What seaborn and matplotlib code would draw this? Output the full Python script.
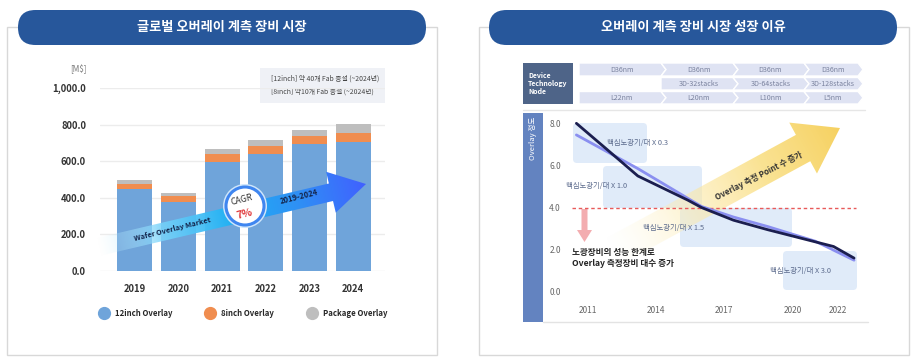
import numpy as np
import matplotlib
matplotlib.use("Agg")
import matplotlib.pyplot as plt
import seaborn as sns
from matplotlib.patches import FancyBboxPatch, Rectangle, Polygon, Circle
from matplotlib.lines import Line2D
from matplotlib.colors import LinearSegmentedColormap, to_rgba

sns.set_style("white")
plt.rcParams['font.family'] = ['Noto Sans CJK KR', 'DejaVu Sans']

# ---------------------------------------------------------------- data
# left chart: global overlay metrology market (M$)
years = ['2019', '2020', '2021', '2022', '2023', '2024']
wafer_12inch = [447, 379, 594, 641, 695, 707]
wafer_8inch = [28, 31, 47, 44, 43, 45]
package = [23, 16, 28, 31, 34, 54]
series_names = ['12inch Overlay', '8inch Overlay', 'Package Overlay']
series_colors = ['#6fa4da', '#f08d4f', '#bebebe']
left_yticks = [0, 200, 400, 600, 800, 1000]
fab_notes = ['[12inch] 약 40개 Fab 증설 (~2024년)', '[8inch] 약10개 Fab 증설 (~2024년)']

# right chart: overlay accuracy trend
dark_years = [2010.5, 2011.8, 2013.2, 2015.4, 2016.0, 2017.4, 2018.9, 2021.8, 2022.7]
dark_values = [8.0, 6.8, 5.5, 4.35, 4.0, 3.4, 2.95, 2.15, 1.6]
light_years = [2010.5, 2013.2, 2014.6, 2016.0, 2017.4, 2018.9, 2021.0, 2022.7]
light_values = [7.45, 5.85, 4.95, 4.05, 3.55, 3.1, 2.4, 1.5]
right_xticks = [2011, 2014, 2017, 2020, 2022]
right_yticks = [0, 2, 4, 6, 8]
limit_level = 4.0

node_row1 = ['D36nm', 'D36nm', 'D36nm', 'D36nm']
node_row2 = ['3D-32stacks', '3D-64stacks', '3D-128stacks']
node_row3 = ['L22nm', 'L20nm', 'L10nm', 'L5nm']
box_labels = ['핵심노광기/대 X 0.3', '핵심노광기/대 X 1.0', '핵심노광기/대 X 1.5', '핵심노광기/대 X 3.0']

W, H = 920, 364
fig = plt.figure(figsize=(W / 100, H / 100), dpi=100)


def px_axes(l, t, r, b, z):
    a = fig.add_axes([l / W, 1 - b / H, (r - l) / W, (b - t) / H], zorder=z)
    a.patch.set_alpha(0)
    return a


def overlay(z):
    a = fig.add_axes([0, 0, 1, 1], zorder=z)
    a.set_xlim(0, W)
    a.set_ylim(H, 0)
    a.axis('off')
    a.patch.set_alpha(0)
    return a


def grad_arrow(a, tail, tip, shaft_w, head_w, head_len, stops, z):
    tail = np.array(tail, float)
    tip = np.array(tip, float)
    d = tip - tail
    L = np.hypot(*d)
    u = d / L
    n = np.array([-u[1], u[0]])
    base = tip - u * head_len
    pts = [tail + n * shaft_w / 2, base + n * shaft_w / 2, base + n * head_w / 2, tip,
           base - n * head_w / 2, base - n * shaft_w / 2, tail - n * shaft_w / 2]
    poly = Polygon(pts, closed=True, fc='none', ec='none')
    a.add_patch(poly)
    xs = [p[0] for p in pts]
    ys = [p[1] for p in pts]
    x0, x1, y0, y1 = min(xs), max(xs), min(ys), max(ys)
    X, Y = np.meshgrid(np.linspace(x0, x1, 400), np.linspace(y0, y1, 200))
    t = ((X - tail[0]) * u[0] + (Y - tail[1]) * u[1]) / L
    cmap = LinearSegmentedColormap.from_list('g', stops)
    im = a.imshow(cmap(np.clip(t, 0, 1)), extent=(x0, x1, y1, y0), origin='upper',
                  aspect='auto', zorder=z, interpolation='bilinear')
    im.set_clip_path(poly)
    a.set_xlim(0, W)
    a.set_ylim(H, 0)


bg = overlay(0)
fg = overlay(3)

# ---------------------------------------------------------------- panels
title_blue = '#27579b'
for (x0, x1, px0, px1, title) in [(7, 437, 18, 426, '글로벌 오버레이 계측 장비 시장'),
                                 (479, 909, 489, 897, '오버레이 계측 장비 시장 성장 이유')]:
    bg.add_patch(Rectangle((x0, 27), x1 - x0, 328, fill=False, ec='#d8d8d8', lw=1))
    bg.add_patch(FancyBboxPatch((px0, 10), px1 - px0, 35, boxstyle='round,pad=0,rounding_size=17.5',
                                fc=title_blue, ec='none', zorder=2))
    bg.text((px0 + px1) / 2, 27.5, title, color='white', fontsize=9.5, fontweight='bold',
            ha='center', va='center', zorder=3)

# ---------------------------------------------------------------- left chart
ax = px_axes(100, 88, 385, 271, 1)
tot2 = [a + b for a, b in zip(wafer_12inch, wafer_8inch)]
tot3 = [a + b for a, b in zip(tot2, package)]
for vals, col in zip([tot3, tot2, wafer_12inch], series_colors[::-1]):
    sns.barplot(x=years, y=vals, color=col, saturation=1, width=0.8, linewidth=0, ax=ax)
ax.set_xlim(-0.8, 5.73)
ax.set_ylim(0, 1000)
ax.set_yticks(left_yticks)
ax.set_yticklabels([f'{v:,.1f}' for v in left_yticks])
ax.yaxis.grid(True, color='#ececec', lw=1)
ax.set_axisbelow(True)
ax.set_xlabel('')
ax.set_ylabel('')
for s in ax.spines.values():
    s.set_visible(False)
ax.tick_params(axis='y', length=0, pad=10, labelsize=6.8, labelcolor='#333333')
ax.tick_params(axis='x', length=0, pad=9, labelsize=6.8, labelcolor='#333333')
for lab in ax.get_xticklabels() + ax.get_yticklabels():
    lab.set_fontweight('bold')

bg.text(78, 69, '[M$]', fontsize=5.8, color='#777777', ha='center', va='center')
bg.add_patch(Rectangle((260, 68), 125, 35, fc='#eff1f6', ec='none'))
bg.text(271, 79, fab_notes[0], fontsize=4.9, color='#444444', va='center')
bg.text(271, 92, fab_notes[1], fontsize=4.9, color='#444444', va='center')

handles = [Line2D([], [], marker='o', ls='', markersize=8.5, color=c) for c in series_colors]
fig.legend(handles, series_names, ncol=3, loc='center left', bbox_to_anchor=(99 / W, 1 - 313 / H),
           frameon=False, handletextpad=0.8, columnspacing=4.3, borderpad=0, borderaxespad=0,
           handlelength=1.2, prop={'weight': 'bold', 'size': 5.6})

# wafer overlay market arrow + CAGR badge
grad_arrow(fg, (98, 247), (366, 184), 18, 42, 36,
           [(0.85, 0.96, 1.0, 0.0), (0.45, 0.82, 0.98, 0.9), to_rgba('#1fb0f3'),
            to_rgba('#2f8ff5'), to_rgba('#4160ff')], 1)
fg.text(172, 229, 'Wafer Overlay Market', rotation=14, fontsize=5.3, fontweight='bold',
        color='#14264d', ha='center', va='center', zorder=4, rotation_mode='anchor')
fg.text(299, 197, '2019-2024', rotation=14, fontsize=5.5, fontweight='bold',
        color='#14264d', ha='center', va='center', zorder=4, rotation_mode='anchor')
fg.add_patch(Circle((245, 206), 22, fc='#cfe6fb', ec='none', zorder=4))
fg.add_patch(Circle((245, 206), 19, fc='white', ec='#3f86f0', lw=2.2, zorder=5))
fg.text(242, 200, 'CAGR', rotation=14, fontsize=6.3, color='#333333', ha='center', va='center',
        zorder=6, rotation_mode='anchor')
fg.text(245, 214, '7%', rotation=14, fontsize=7.5, color='#e0383a', fontweight='bold', ha='center',
        va='center', zorder=6, rotation_mode='anchor')

# ---------------------------------------------------------------- right chart
# technology node header
bg.add_patch(Rectangle((523, 63), 50, 41, fc='#4e6488', ec='none'))
bg.text(528, 83.5, 'Device\nTechnology\nNode', color='white', fontsize=5.0, fontweight='bold',
        va='center', ha='left', linespacing=1.2)
col_edges = [579, 661, 733, 804, 858]
rows = [(63, 76, node_row1, 0), (77.5, 90, node_row2, 1), (91.5, 104, node_row3, 0)]
for (y0, y1, labels, start) in rows:
    ym = (y0 + y1) / 2
    for i, lab in enumerate(labels):
        c = start + i
        xa, xb = col_edges[c], col_edges[c + 1]
        notch = 0 if c == start else 5
        pts = [(xa, y0), (xb, y0), (xb + 5, ym), (xb, y1), (xa, y1), (xa + notch, ym)]
        bg.add_patch(Polygon(pts, closed=True, fc='#dfe3f3', ec='white', lw=1))
        bg.text((xa + xb) / 2 + 2, ym, lab, fontsize=5.1, color='#7a829e', ha='center', va='center')
bg.plot([523, 865], [110, 110], color='#e6e6e6', lw=1)

# y band
bg.add_patch(Rectangle((523, 113), 20, 209, fc='#6383c0', ec='none'))
bg.text(533, 117, 'Overlay 정도', rotation=90, color='white', fontsize=5.5, ha='center', va='top')
bg.plot([543, 868], [322, 322], color='#e3e3e3', lw=1)

# light boxes
boxes = [(573, 123, 74, 40), (603, 166, 99, 42), (680, 208, 112, 39), (783, 251, 74, 39)]
label_pos = [(638, 143), (597, 186), (674, 228), (801, 271)]
for (x, y, w, h), (tx, ty), lab in zip(boxes, label_pos, box_labels):
    bg.add_patch(FancyBboxPatch((x, y), w, h, boxstyle='round,pad=0,rounding_size=4',
                                fc='#dde9f9', ec='none', alpha=0.9, zorder=1))
    bg.text(tx, ty, lab, fontsize=5.3, color='#5b6a8c', ha='center', va='center', zorder=4)

# yellow growth arrow
grad_arrow(bg, (612, 252), (840, 128), 30, 58, 42,
           [(1.0, 0.97, 0.85, 0.0), (0.99, 0.92, 0.68, 0.55), (0.98, 0.87, 0.5, 0.85),
            to_rgba('#f6d160')], 2)
bg.text(759, 176, 'Overlay 측정 Point 수 증가', rotation=27, fontsize=5.8, fontweight='bold',
        color='#333333', ha='center', va='center', zorder=3, rotation_mode='anchor')

# pink arrow + note
bg.add_patch(Polygon([(581.5, 209), (587.5, 209), (587.5, 230), (592, 230), (584.5, 242),
                      (577, 230), (581.5, 230)], closed=True, fc='#f3adb0', ec='none', zorder=3))
bg.text(572, 252, '노광장비의 성능 한계로', fontsize=6.2, fontweight='bold', color='#222222',
        va='center', zorder=4)
bg.text(572, 263, 'Overlay 측정장비 대수 증가', fontsize=6.2, fontweight='bold', color='#222222',
        va='center', zorder=4)

ax2 = px_axes(565, 113, 870, 300, 2)
ax2.hlines(limit_level, 2010.3, 2022.8, colors='#e85a5a', linestyles=(0, (2.5, 2)), lw=1)
sns.lineplot(x=light_years, y=light_values, color='#8a8ff0', lw=2, ax=ax2)
sns.lineplot(x=dark_years, y=dark_values, color='#1b1e4f', lw=2, ax=ax2)
ax2.set_xlim(2010, 2023.4)
ax2.set_ylim(-0.39, 8.49)
ax2.set_xticks(right_xticks)
ax2.set_yticks(right_yticks)
ax2.set_yticklabels([f'{v:.1f}' for v in right_yticks])
for s in ax2.spines.values():
    s.set_visible(False)
ax2.tick_params(axis='both', length=0, labelsize=6, labelcolor='#666666')
ax2.tick_params(axis='y', pad=3)
ax2.tick_params(axis='x', pad=4)

fig.savefig('out.png', dpi=100, facecolor='white')
